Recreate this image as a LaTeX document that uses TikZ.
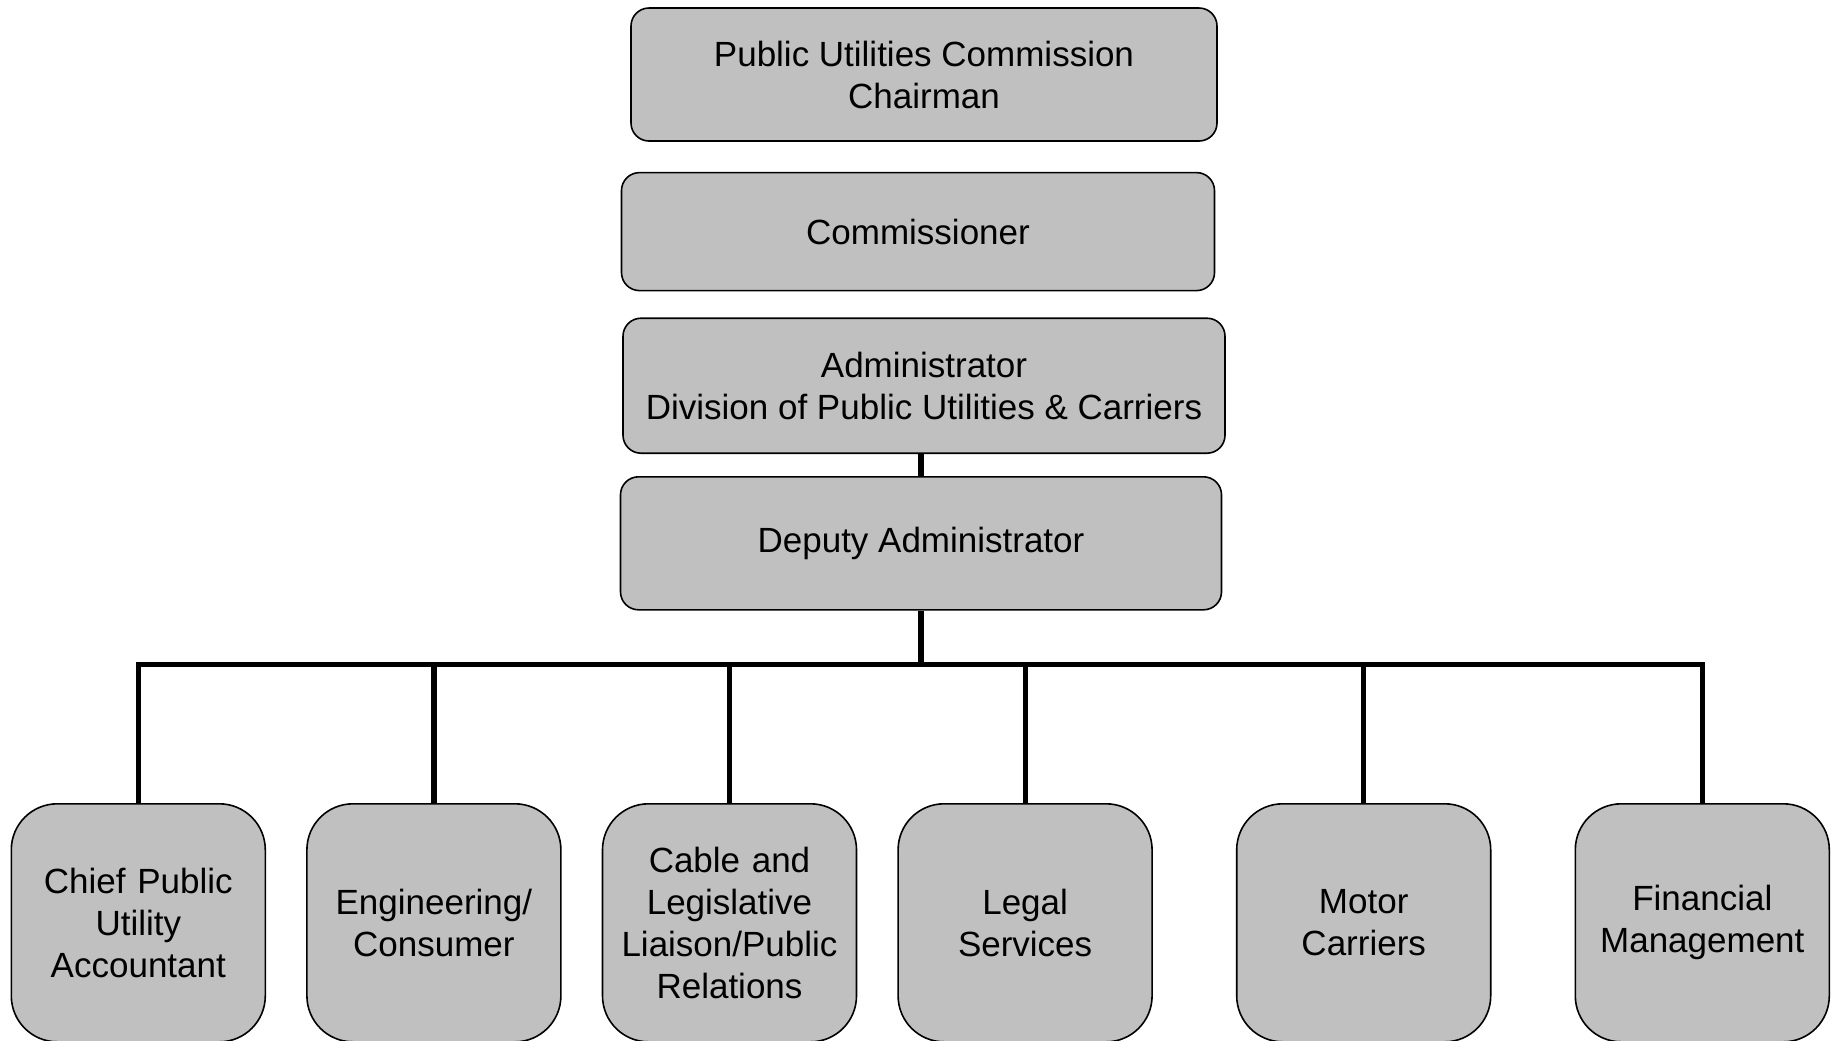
\documentclass[tikz,border=0pt]{standalone}
\usepackage{fontspec}
\setmainfont{Liberation Sans}
\usetikzlibrary{positioning}
\definecolor{grisbox}{RGB}{192,192,192}
\begin{document}
\begin{tikzpicture}[node distance=13pt, auto,]
  % definicion de estilos
  %Define style for boxes
   \tikzset{
   cargo/.style={
           rectangle,
           rounded corners=9pt,
           draw=black,
           line width=0.8pt,
           fill=grisbox,
           minimum width=296pt,
           minimum height=66.5pt,
           align=center,
           font=\fontsize{17.5pt}{21pt}\selectfont},
   depto/.style={
           cargo,
           rounded corners=23pt,
           minimum width=127pt,
           text width=118pt,
           minimum height=119pt},
    % Define line style
    linea/.style={
           line width=2.6pt}
    }
  \useasboundingbox (0,0) rectangle (915.5pt,-520pt);

  % Gráfico
  \node[cargo, minimum width=293pt] at (462pt,-37.25pt) (presi) {Public Utilities Commission\\Chairman};
  \node[cargo, minimum width=296.5pt, minimum height=59pt, below=15pt of presi, xshift=-3pt] (comis) {Commissioner};
  \node[cargo, minimum width=301pt, minimum height=67.5pt, below=13pt of comis, xshift=3pt] (admin) {Administrator\\Division of Public Utilities \& Carriers};
  \node[cargo, minimum width=300.5pt, below=11pt of admin, xshift=-1.5pt] (deputy) {Deputy Administrator};
  \coordinate[below=27pt of deputy] (bus);

  \node[depto, anchor=north west] at (5.25pt,-401.5pt) (chief) {Chief Public\\Utility\\Accountant};
  \node[depto, right=20pt of chief] (eng) {Engineering/\\Consumer};
  \node[depto, right=20pt of eng] (cable) {Cable and\\Legislative\\Liaison/Public\\Relations};
  \node[depto, right=20pt of cable] (legal) {Legal\\Services};
  \node[depto, right=41.5pt of legal] (motor) {Motor\\Carriers};
  \node[depto, right=41.5pt of motor] (fin) {Financial\\Management};

  \draw[linea] (admin.south -| deputy) -- (deputy);
  \draw[linea] (deputy) -- (bus);
  \draw[linea] (chief.north) |- (bus) -| (fin.north);
  \draw[linea] (eng.north) -- (eng.north |- bus);
  \draw[linea] (cable.north) -- (cable.north |- bus);
  \draw[linea] (legal.north) -- (legal.north |- bus);
  \draw[linea] (motor.north) -- (motor.north |- bus);
 \end{tikzpicture}
\end{document}
